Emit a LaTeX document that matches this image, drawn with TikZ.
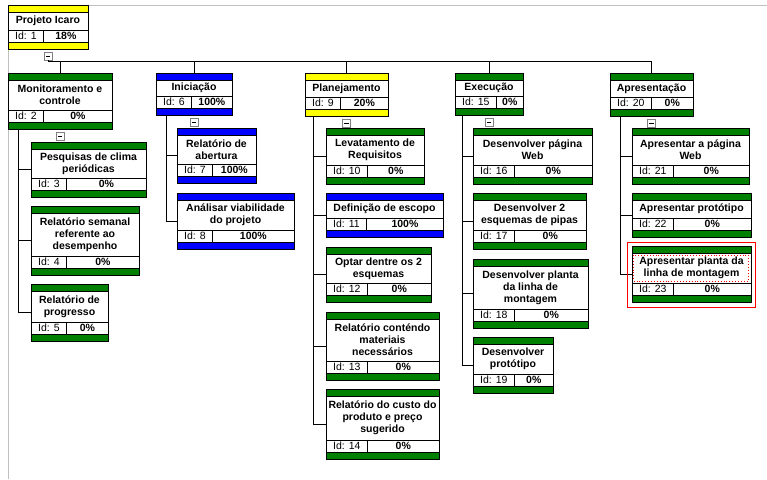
\documentclass[tikz,border=0pt]{standalone}
\usepackage{fontspec}
\setmainfont{Liberation Sans}
\usetikzlibrary{calc}
\definecolor{wgreen}{HTML}{008000}
\definecolor{wblue}{HTML}{0000FF}
\definecolor{wyellow}{HTML}{FFFF00}
\definecolor{wgray}{HTML}{C0C0C0}
\tikzset{
  frame/.style={draw=black, line width=0.9pt},
  rowline/.style={draw=black, line width=0.8pt},
  conn/.style={draw=black, line width=0.8pt},
  titletext/.style={font=\fontsize{10.5}{12}\selectfont\bfseries, align=center, inner sep=0pt},
  idcell/.style={font=\fontsize{10.5}{12}\selectfont, inner xsep=7pt, inner ysep=0pt, minimum height=12pt},
  pcttext/.style={font=\fontsize{10.5}{12}\selectfont\bfseries, inner sep=0pt},
  togglebox/.style={draw=gray, fill=white, line width=0.6pt, minimum size=8pt, inner sep=0pt},
}
% #1 name, #2 x, #3 y, #4 width, #5 height, #6 colour, #7 title, #8 id, #9 pct
\newcommand{\wbs}[9]{%
  \node[minimum width=#4pt, minimum height=#5pt, inner sep=0pt, outer sep=0pt, anchor=north west] (#1) at (#2,#3) {};
  \fill[#6] (#1.north west) rectangle ([yshift=-7pt]#1.north east);
  \fill[#6] (#1.south west) rectangle ([yshift=7pt]#1.south east);
  \draw[rowline] ([yshift=-7pt]#1.north west) -- ([yshift=-7pt]#1.north east);
  \draw[rowline] ([yshift=7pt]#1.south west) -- ([yshift=7pt]#1.south east);
  \draw[rowline] ([yshift=19pt]#1.south west) -- ([yshift=19pt]#1.south east);
  \node[idcell, anchor=west] (#1id) at ([yshift=13pt]#1.south west) {Id: #8};
  \draw[rowline] ([yshift=19pt]#1.south west -| #1id.east) -- ([yshift=7pt]#1.south west -| #1id.east);
  \node[pcttext] (#1pct) at ($(#1id.east)!0.5!(#1id.east -| #1.east)$) {#9};
  \node[titletext] (#1title) at ($([yshift=-7pt]#1.north)!0.5!([yshift=19pt]#1.south)$) {#7};
  \draw[frame] (#1.north west) rectangle (#1.south east);
}
\newcommand{\toggle}[2]{%
  \node[togglebox] (#1) at #2 {};
  \draw[line width=0.6pt] ([xshift=-2.2pt]#1.center) -- ([xshift=2.2pt]#1.center);
}
\begin{document}
\begin{tikzpicture}[x=1pt,y=-1pt]
\useasboundingbox (0,0) rectangle (767,479);
\fill[white] (0,0) rectangle (767,479);
% background frame lines
\coordinate (gtl) at (88,5);
\coordinate (gtr) at (767,5);
\coordinate (glt) at (8,48);
\coordinate (glb) at (8,479);
\draw[wgray, line width=0.9pt] (gtl) -- (gtr);
\draw[wgray, line width=0.9pt] (glt) -- (glb);

% root
\wbs{n1}{8}{5}{80}{44}{wyellow}{Projeto Icaro}{1}{18\%}
% level 1
\wbs{n2}{8}{73}{104}{56}{wgreen}{Monitoramento e\\controle}{2}{0\%}
\wbs{n6}{156}{73}{76}{42}{wblue}{Iniciação}{6}{100\%}
\wbs{n9}{305}{73}{83}{43}{wyellow}{Planejamento}{9}{20\%}
\wbs{n15}{455}{73}{68}{42}{wgreen}{Execução}{15}{0\%}
\wbs{n20}{610}{73}{83}{43}{wgreen}{Apresentação}{20}{0\%}
% Monitoramento children
\wbs{n3}{31}{142}{115}{55}{wgreen}{Pesquisas de clima\\periódicas}{3}{0\%}
\wbs{n4}{31}{206}{108}{69}{wgreen}{Relatório semanal\\referente ao\\desempenho}{4}{0\%}
\wbs{n5}{31}{284}{77}{57}{wgreen}{Relatório de\\progresso}{5}{0\%}
% Iniciação children
\wbs{n7}{177}{128}{79}{55}{wblue}{Relatório de\\abertura}{7}{100\%}
\wbs{n8}{177}{193}{117}{56}{wblue}{Análisar viabilidade\\do projeto}{8}{100\%}
% Planejamento children
\wbs{n10}{326}{128}{98}{56}{wgreen}{Levatamento de\\Requisitos}{10}{0\%}
\wbs{n11}{326}{193}{117}{44}{wblue}{Definição de escopo}{11}{100\%}
\wbs{n12}{326}{247}{105}{55}{wgreen}{Optar dentre os 2\\esquemas}{12}{0\%}
\wbs{n13}{326}{312}{113}{68}{wgreen}{Relatório conténdo\\materiais\\necessários}{13}{0\%}
\wbs{n14}{326}{389}{113}{70}{wgreen}{Relatório do custo do\\produto e preço\\sugerido}{14}{0\%}
% Execução children
\wbs{n16}{473}{128}{119}{56}{wgreen}{Desenvolver página\\Web}{16}{0\%}
\wbs{n17}{473}{193}{113}{56}{wgreen}{Desenvolver 2\\esquemas de pipas}{17}{0\%}
\wbs{n18}{473}{259}{115}{69}{wgreen}{Desenvolver planta\\da linha de\\montagem}{18}{0\%}
\wbs{n19}{473}{337}{80}{56}{wgreen}{Desenvolver\\protótipo}{19}{0\%}
% Apresentação children
\wbs{n21}{632}{128}{117}{56}{wgreen}{Apresentar a página\\Web}{21}{0\%}
\wbs{n22}{632}{193}{119}{44}{wgreen}{Apresentar protótipo}{22}{0\%}
\wbs{n23}{632}{246}{119}{56}{wgreen}{Apresentar planta da\\linha de montagem}{23}{0\%}

% toggles
\toggle{t1}{([yshift=-7pt]n1.south)}
\toggle{t2}{([yshift=-7pt]n2.south)}
\toggle{t6}{([yshift=-7pt]n6.south)}
\toggle{t9}{([yshift=-7pt]n9.south)}
\toggle{t15}{([yshift=-7pt]n15.south)}
\toggle{t20}{([yshift=-7pt]n20.south)}

% trunk
\coordinate (trunk) at (48,61);
\draw[conn] (t1.south) -- (trunk) -- (trunk -| n20.north);
\foreach \n in {n2,n6,n9,n15,n20} {
  \draw[conn] (trunk -| \n.north) -- (\n.north);
}
% children connectors
\foreach \p/\dx/\c in {n2/10/n3, n2/10/n4, n2/10/n5,
                       n6/10/n7, n6/10/n8,
                       n9/8/n10, n9/8/n11, n9/8/n12, n9/8/n13, n9/8/n14,
                       n15/7/n16, n15/7/n17, n15/7/n18, n15/7/n19,
                       n20/10/n21, n20/10/n22, n20/10/n23} {
  \draw[conn] ([xshift=\dx pt]\p.south west) |- (\c.west);
}

% selection and focus rectangles
\node[draw=red, line width=1.2pt, minimum width=128pt, minimum height=65pt, inner sep=0pt, anchor=north west] (sel) at (627,242) {};
\draw[red, dotted, line width=0.9pt] ([xshift=1.5pt,yshift=-9pt]n23.north west) rectangle ([xshift=-3pt,yshift=-35pt]n23.north east);
\end{tikzpicture}
\end{document}
